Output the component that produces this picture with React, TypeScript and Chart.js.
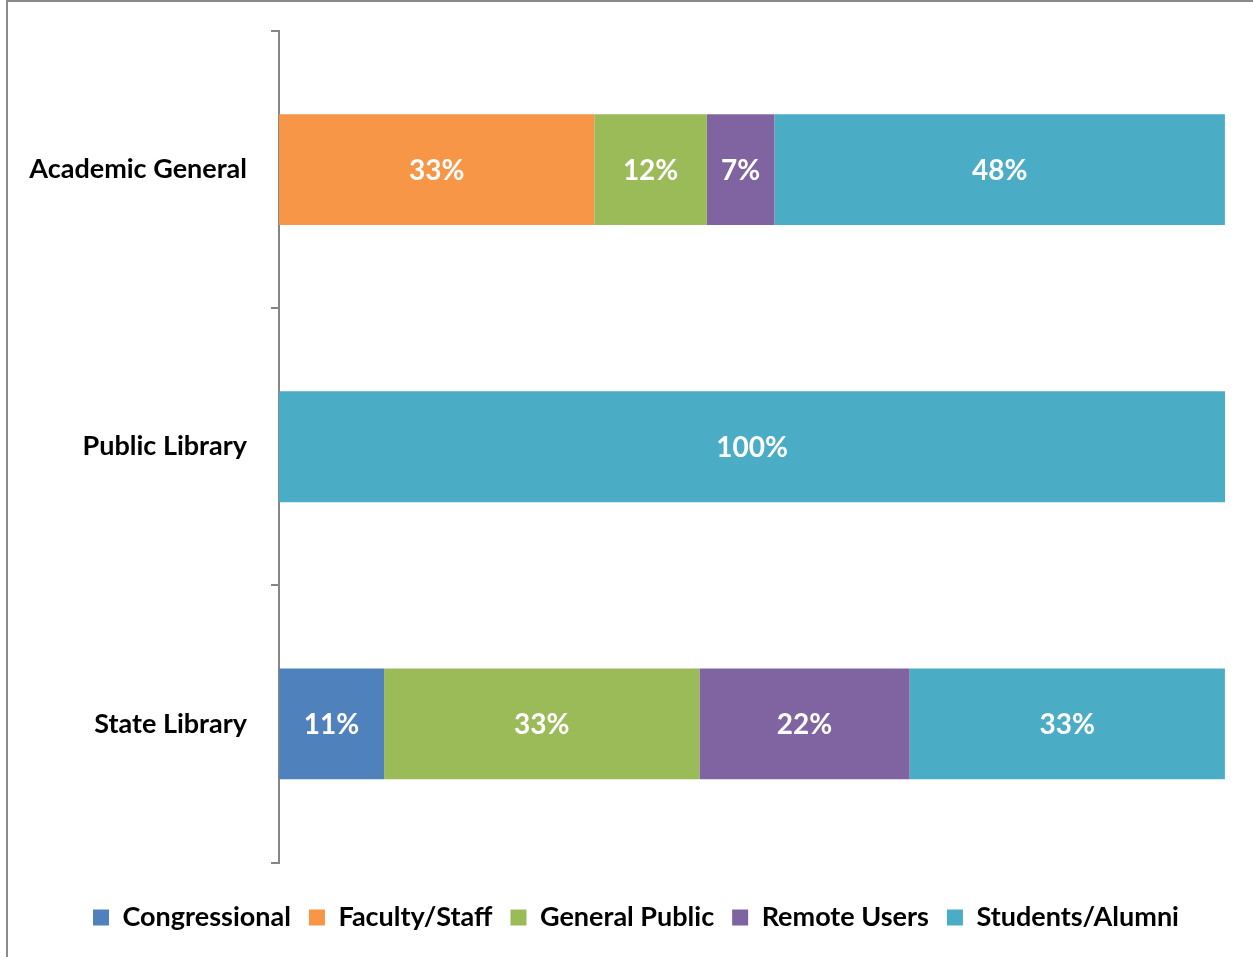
import React, { useEffect, useRef } from "react";
import { Chart, registerables } from "chart.js";

Chart.register(...registerables);

const categories = ["Academic General", "Public Library", "State Library"];
const seriesNames = ["Congressional", "Faculty/Staff", "General Public", "Remote Users", "Students/Alumni"];
const seriesColors = ["#4F81BD", "#F79646", "#9BBB59", "#8064A2", "#4BACC6"];
const congressional = [0, 0, 11.11];
const facultyStaff = [33.33, 0, 0];
const generalPublic = [11.9, 0, 33.33];
const remoteUsers = [7.14, 0, 22.22];
const studentsAlumni = [47.62, 100, 33.33];
const xTicks = [0, 20, 40, 60, 80, 100];

const FONT = "Lato, 'Open Sans', sans-serif";

const labelPlugin = {
  id: "barLabels",
  afterDatasetsDraw(chart: any) {
    const ctx = chart.ctx;
    ctx.save();
    ctx.fillStyle = "#ffffff";
    ctx.font = `bold 28px ${FONT}`;
    ctx.textAlign = "center";
    ctx.textBaseline = "middle";
    chart.data.datasets.forEach((ds: any, di: number) => {
      const meta = chart.getDatasetMeta(di);
      meta.data.forEach((el: any, i: number) => {
        const v = ds.data[i];
        if (!v) return;
        const p = el.getCenterPoint();
        ctx.fillText(Math.round(v) + "%", p.x, p.y + 1);
      });
    });
    ctx.restore();
  },
};

const legendShiftPlugin = {
  id: "legendShift",
  afterLayout(chart: any) {
    if (chart.legend) {
      chart.legend.left += 47;
    }
  },
};

export default function App() {
  const ref = useRef<HTMLCanvasElement>(null);
  useEffect(() => {
    const all = [congressional, facultyStaff, generalPublic, remoteUsers, studentsAlumni];
    const chart = new Chart(ref.current!, {
      type: "bar",
      data: {
        labels: categories,
        datasets: seriesNames.map((n, i) => ({
          label: n,
          data: all[i],
          backgroundColor: seriesColors[i],
          borderWidth: 0,
          categoryPercentage: 1,
          barPercentage: 0.4,
        })),
      },
      options: {
        indexAxis: "y",
        animation: false,
        responsive: false,
        maintainAspectRatio: false,
        layout: { padding: { top: 31, right: 28, left: 0, bottom: 16 } },
        scales: {
          x: {
            stacked: true,
            display: false,
            min: xTicks[0],
            max: xTicks[xTicks.length - 1],
          },
          y: {
            stacked: true,
            afterFit: (s: any) => {
              s.width = 279;
              s.paddingTop = 0;
              s.paddingBottom = 0;
            },
            border: { display: true, color: "#868686", width: 2 },
            grid: {
              drawOnChartArea: false,
              drawTicks: true,
              tickLength: 8,
              color: "#868686",
              lineWidth: 2,
              offset: true,
            },
            ticks: {
              color: "#000000",
              padding: 24,
              font: { family: FONT, size: 27, weight: "bold" },
            },
          },
        },
        plugins: {
          legend: {
            position: "bottom",
            title: { display: true, text: "", font: { size: 10, lineHeight: 1 }, padding: { top: 13.5, bottom: 0 } },
            labels: {
              color: "#000000",
              boxWidth: 16,
              boxHeight: 16,
              padding: 18,
              font: { family: FONT, size: 27, weight: "bold" },
            },
          },
          tooltip: { enabled: false },
        },
      },
      plugins: [labelPlugin, legendShiftPlugin],
    });
    return () => chart.destroy();
  }, []);
  return (
    <div style={{ position: "absolute", left: 0, top: 0, width: 1253, height: 957, background: "#fff", overflow: "hidden" }}>
      <div
        style={{
          position: "absolute",
          left: 6,
          top: 0,
          width: 1260,
          height: 970,
          borderLeft: "2px solid #8a8a8a",
          borderTop: "2px solid #8a8a8a",
          boxSizing: "border-box",
        }}
      />
      <canvas ref={ref} width={1253} height={957} style={{ position: "absolute", left: 0, top: 0 }} />
    </div>
  );
}
